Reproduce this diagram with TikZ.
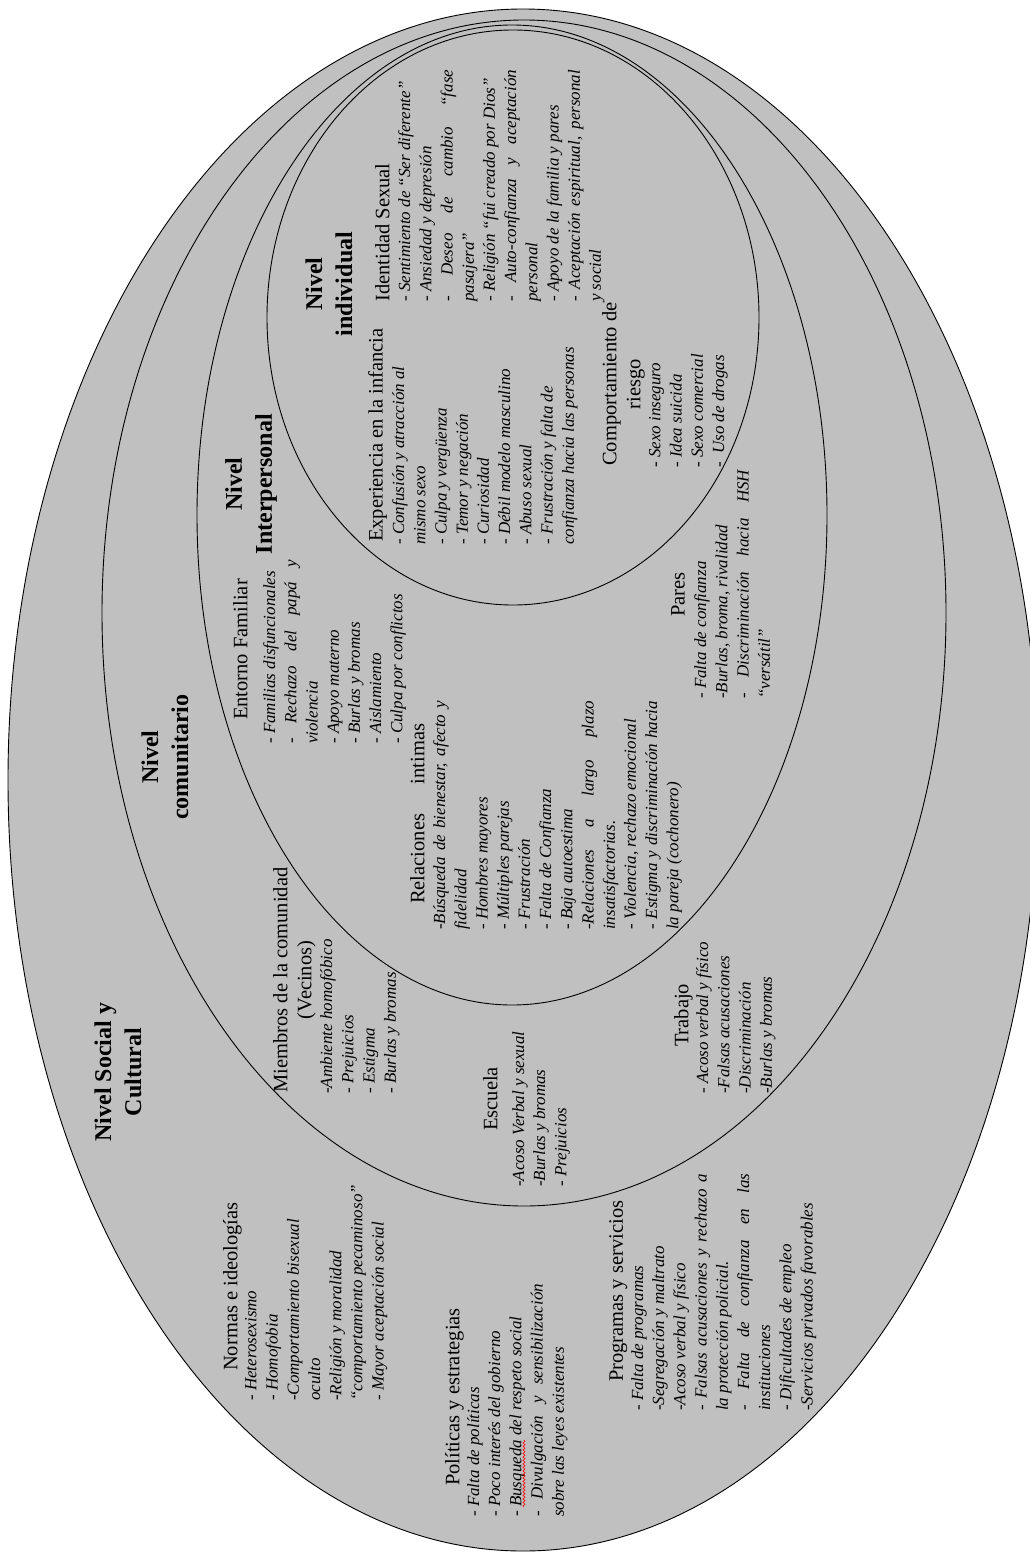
\documentclass[tikz,border=0pt]{standalone}
\usepackage{fontspec}
\setmainfont{Liberation Serif}
\usetikzlibrary{decorations.pathmorphing}
\definecolor{bgray}{HTML}{C0C0C0}
\tikzset{
  ring/.style={draw=black, line width=0.9pt, fill=bgray},
  lvl/.style={rotate=90, align=center, inner sep=0pt, font=\bfseries\fontsize{24}{30}\selectfont},
  ttl/.style={rotate=90, anchor=north west, inner sep=0pt, font=\fontsize{20.5}{24}\selectfont},
  ttlc/.style={rotate=90, anchor=north, align=center, inner sep=0pt, font=\fontsize{20.5}{24}\selectfont},
  itm/.style={rotate=90, anchor=north west, align=left, inner sep=0pt, font=\itshape\fontsize{17}{21.2}\selectfont},
  spell/.style={red, line width=0.6pt, decorate, decoration={snake, amplitude=1.1pt, segment length=3.5pt}}
}
\newcommand{\jst}[2]{\makebox[#1][s]{#2}}
\begin{document}
\begin{tikzpicture}[x=1pt,y=-1pt]
\useasboundingbox (0,0) rectangle (1029,1552);
% nested levels
\draw[ring] (523,780) ellipse [x radius=515pt, y radius=771pt];
\draw[ring] (524,613) ellipse [x radius=422pt, y radius=593pt];
\draw[ring] (512,515) ellipse [x radius=315pt, y radius=490pt];
\draw[ring] (513,317.5) ellipse [x radius=246pt, y radius=287.5pt];

% level titles
\node[lvl] (lvlInd) at (329,284) {Nivel\\individual};
\node[lvl] (lvlInt) at (251,484) {Nivel\\Interpersonal};
\node[lvl] (lvlCom) at (165,757) {Nivel\\comunitario};
\node[lvl] (lvlSoc) at (118,1072) {Nivel Social y\\Cultural};

% individual level
\node[ttl] (idT) at (375,302) {Identidad Sexual};
\node[itm] (idI) at (398,302) {- Sentimiento de “Ser diferente”\\
- Ansiedad y depresión\\
\jst{232pt}{- Deseo de cambio “fase}\\
pasajera”\\
- Religión “fui creado por Dios”\\
\jst{232pt}{- Auto-confianza y aceptación}\\
personal\\
- Apoyo de la familia y pares\\
\jst{232pt}{- Aceptación espiritual, personal}\\
y social};

\node[ttl] (exT) at (368,542) {Experiencia en la infancia};
\node[itm] (exI) at (392,545) {- Confusión y atracción al\\
mismo sexo\\
- Culpa y vergüenza\\
- Temor y negación\\
- Curiosidad\\
- Débil modelo masculino\\
- Abuso sexual\\
- Frustración y falta de\\
confianza hacia las personas};

\node[ttlc] (crT) at (602,384) {Comportamiento de\\riesgo};
\node[itm] (crI) at (649,468) {- Sexo inseguro\\
- Idea suicida\\
- Sexo comercial\\
- \ Uso de drogas};

% interpersonal level
\node[ttl] (efT) at (233,720) {Entorno Familiar};
\node[itm] (efI) at (263,744) {- Familias disfuncionales\\
\jst{184pt}{- Rechazo del papá y}\\
violencia\\
- Apoyo materno\\
- Burlas y bromas\\
- Aislamiento\\
- Culpa por conflictos};

\node[ttl] (riT) at (410,904) {\jst{180pt}{Relaciones intimas}};
\node[itm] (riI) at (433,930) {\jst{229pt}{-Búsqueda de bienestar, afecto y}\\
fidelidad\\
- Hombres mayores\\
- Múltiples parejas\\
- Frustración\\
- Falta de Confianza\\
- Baja autoestima\\
\jst{229pt}{-Relaciones a largo plazo}\\
insatisfactorias.\\
- Violencia, rechazo emocional\\
\jst{229pt}{- Estigma y discriminación hacia}\\
la pareja (cochonero)};

\node[ttl] (paT) at (671,617) {Pares};
\node[itm] (paI) at (694,699) {- Falta de confianza\\
-Burlas, broma, rivalidad\\
\jst{229pt}{- Discriminación hacia HSH}\\
“versátil”};

% community level
\node[ttlc] (miT) at (273,980) {Miembros de la comunidad\\(Vecinos)};
\node[itm] (miI) at (320,1094) {-Ambiente homofóbico\\
- Prejuicios\\
- Estigma\\
- Burlas y bromas};

\node[ttl] (esT) at (483,1131) {Escuela};
\node[itm] (esI) at (512,1187) {-Acoso Verbal y sexual\\
-Burlas y bromas\\
- Prejuicios};

\node[ttl] (trT) at (674,1047) {Trabajo};
\node[itm] (trI) at (696,1094) {- Acoso verbal y físico\\
-Falsas acusaciones\\
-Discriminación\\
-Burlas y bromas};

% social and cultural level
\node[ttl] (noT) at (223,1371) {Normas e ideologías};
\node[itm] (noI) at (245,1401) {- Heterosexismo\\
- Homofobia\\
-Comportamiento bisexual\\
oculto\\
-Religión y moralidad\\
“comportamiento pecaminoso”\\
- Mayor aceptación social};

\node[ttl] (poT) at (445,1486) {Políticas y estrategias};
\node[itm] (poI) at (467,1517) {- Falta de políticas\\
- Poco interés del gobierno\\
- Busqueda del respeto social\\
\jst{233pt}{- Divulgación y sensibilización}\\
sobre las leyes existentes};
\draw[spell] (524,1507) -- (524,1440);

\node[ttl] (prT) at (609,1382) {Programas y servicios};
\node[itm] (prI) at (631,1411) {- Falta de programas\\
-Segregación y maltrato\\
-Acoso verbal y físico\\
\jst{237pt}{- Falsas acusaciones y rechazo a}\\
la protección policial.\\
\jst{237pt}{- Falta de confianza en las}\\
instituciones\\
- Dificultades de empleo\\
-Servicios privados favorables};
\end{tikzpicture}
\end{document}
